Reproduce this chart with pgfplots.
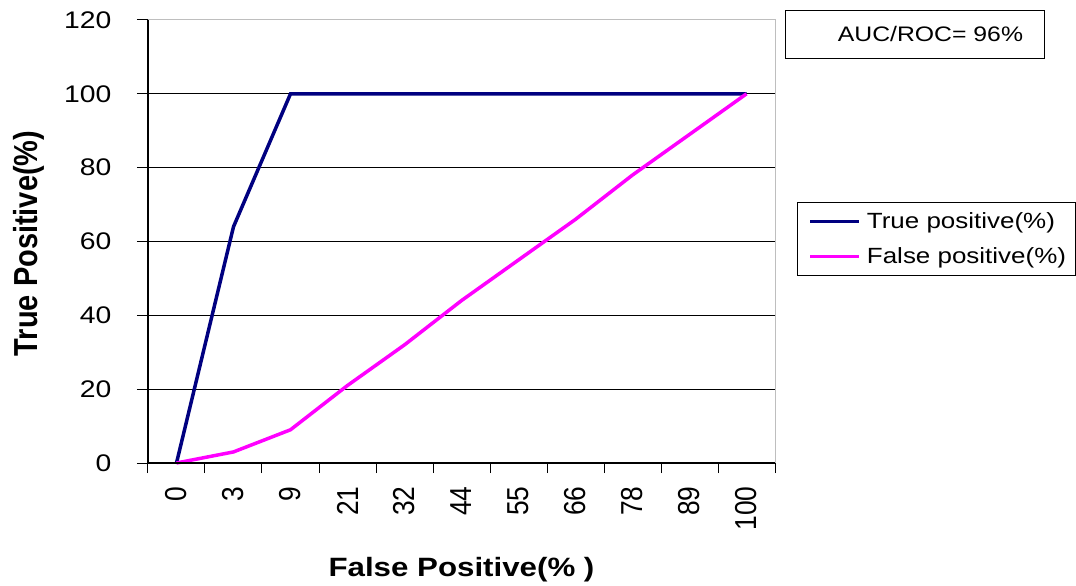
\documentclass[border=0pt]{standalone}
\usepackage{fontspec}
\setmainfont{Liberation Sans}[FakeStretch=1.18]
\newfontfamily\rotfont{Liberation Sans}[FakeStretch=0.87]
\usepackage{pgfplots}
\pgfplotsset{compat=1.18}
\definecolor{tpblue}{RGB}{0,0,128}
\definecolor{fpmag}{RGB}{255,0,255}
\definecolor{framegray}{RGB}{190,190,190}

\begin{document}
\begin{tikzpicture}
\useasboundingbox (-148pt,-123pt) rectangle (928pt,463pt);
\begin{axis}[
  at={(0pt,0pt)}, anchor=south west,
  scale only axis, width=627pt, height=443pt,
  xmin=-0.5, xmax=10.5, ymin=0, ymax=120,
  clip=false,
  xtick={0,...,10},
  xticklabels={0,3,9,21,32,44,55,66,78,89,100},
  minor xtick={-0.5,0.5,...,10.5},
  every major x tick/.append style={draw=none},
  ytick={0,20,...,100},
  extra y ticks={120},
  extra y tick style={grid=none},
  tick pos=left,
  tick align=outside,
  major tick length=11pt, minor tick length=10pt,
  tick style={black, line width=1pt},
  ymajorgrids, major grid style={black, line width=1pt},
  axis line style={draw=none},
  /pgf/number format/assume math mode=true,
  yticklabel style={font=\fontsize{24}{28}\selectfont, anchor=east, xshift=-22pt},
  xticklabel style={font=\rotfont\fontsize{30.3}{34}\selectfont, rotate=90, anchor=east, xshift=-9pt},
  xlabel={False Positive(\% )},
  xlabel style={font=\bfseries\fontsize{26.5}{30}\selectfont, at={(axis description cs:0.5,0)}, anchor=base, yshift=-113pt},
  ylabel={True Positive(\%)},
  ylabel style={font=\rotfont\bfseries\fontsize{33.3}{38}\selectfont, at={(axis description cs:-0.1898,0.4955)}, anchor=center, rotate=0},
  legend style={at={(axis description cs:1.035,0.589)}, anchor=north west,
    draw=black, line width=1pt, font=\fontsize{22}{26}\selectfont,
    inner xsep=3pt, inner ysep=1pt, row sep=0pt,
    nodes={inner ysep=9pt, inner xsep=6pt}},
  legend cell align=left,
  legend image code/.code={\path (0pt,0pt); \draw[#1] (8pt,0pt) -- (57pt,0pt);},
]
\addplot[tpblue, line width=3.5pt] coordinates {
  (0,0) (1,64) (2,100) (3,100) (4,100) (5,100) (6,100) (7,100) (8,100) (9,100) (10,100)};
\addlegendentry{True positive(\%)}
\addplot[fpmag, line width=3.5pt] coordinates {
  (0,0) (1,3) (2,9) (3,21) (4,32) (5,44) (6,55) (7,66) (8,78) (9,89) (10,100)};
\addlegendentry{False positive(\%)}
\draw[framegray, line width=1pt] (rel axis cs:0,1) -- (rel axis cs:1,1) -- (rel axis cs:1,0);
\draw[black, line width=1.3pt] (rel axis cs:0,1) -- (rel axis cs:0,0) -- (rel axis cs:1,0);
\node[draw=black, line width=1pt, anchor=north west, minimum width=259pt, minimum height=48pt, inner sep=0pt] (auc) at (rel axis cs:1.0159,1.0226) {};
\node[font=\fontsize{21}{25}\selectfont, xshift=15.5pt] at (auc.center) {AUC/ROC= 96\%};
\end{axis}
\end{tikzpicture}
\end{document}
